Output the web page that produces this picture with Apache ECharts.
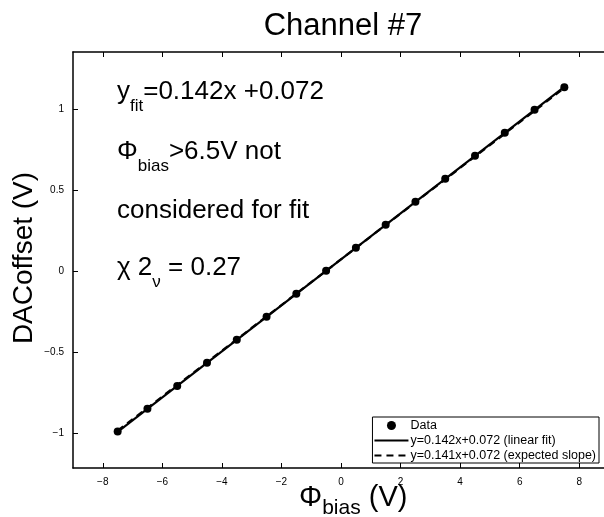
<!DOCTYPE html>
<html>
<head>
<meta charset="utf-8">
<script src="https://cdn.jsdelivr.net/npm/echarts@6/dist/echarts.min.js"></script>
<style>
  html, body { margin: 0; padding: 0; background: #fff; }
  #chart { width: 604px; height: 517px; }
</style>
</head>
<body>
<div id="chart"></div>
<script>
// measured points
const biasV = [-7.5, -6.5, -5.5, -4.5, -3.5, -2.5, -1.5, -0.5, 0.5, 1.5, 2.5, 3.5, 4.5, 5.5, 6.5, 7.5];
const dacOffset = [-0.99, -0.85, -0.71, -0.567, -0.425, -0.283, -0.141, 0.001, 0.143, 0.285, 0.427, 0.569, 0.711, 0.853, 0.995, 1.135];

// fit lines (end points)
const fitX = [-7.5, 7.5];
const fitY = [-0.993, 1.137];
const expectedY = [-0.986, 1.130];

const xTicks = [-8, -6, -4, -2, 0, 2, 4, 6, 8];
const yTicks = [-1, -0.5, 0, 0.5, 1];

const FONT = 'Liberation Sans, Arial, Helvetica, sans-serif';

function fmt(v) {
  return v < 0 ? '\u2212' + Math.abs(v) : String(v);
}

const chart = echarts.init(document.getElementById('chart'), null, { renderer: 'canvas' });

const axisCommon = {
  axisLine: { show: true, onZero: false, lineStyle: { color: '#000', width: 1.5 } },
  splitLine: { show: false }
};

// rich text for labels with subscripts
function subRich(size, subSize, drop) {
  return {
    m: { fontSize: size, fontFamily: FONT, fill: '#000', verticalAlign: 'top', lineHeight: 40 },
    s: { fontSize: subSize, fontFamily: FONT, fill: '#000', verticalAlign: 'top', padding: [drop, 0, 0, 0] }
  };
}

chart.setOption({
  animation: false,
  backgroundColor: '#fff',
  textStyle: { fontFamily: FONT },
  title: {
    text: 'Channel #7',
    left: 338,
    textAlign: 'center',
    top: 6,
    textStyle: { fontSize: 31, fontWeight: 'normal', color: '#000', fontFamily: FONT }
  },
  grid: { left: 73, top: 52, right: -5, bottom: 49, outerBoundsMode: 'none' },
  xAxis: [{
    type: 'value',
    min: -9, max: 9,
    ...axisCommon,
    axisTick: { inside: true, length: 5, customValues: xTicks, lineStyle: { color: '#000' } },
    axisLabel: { customValues: xTicks, formatter: fmt, color: '#000', fontSize: 10, margin: 9, fontFamily: FONT }
  }, {
    type: 'value',
    position: 'top',
    min: -9, max: 9,
    ...axisCommon,
    axisTick: { inside: true, length: 5, customValues: xTicks, lineStyle: { color: '#000' } },
    axisLabel: { show: false }
  }],
  yAxis: [{
    type: 'value',
    min: -1.216, max: 1.352,
    ...axisCommon,
    axisTick: { inside: true, length: 5, customValues: yTicks, lineStyle: { color: '#000' } },
    axisLabel: { customValues: yTicks, formatter: fmt, color: '#000', fontSize: 10, margin: 9, fontFamily: FONT }
  }],
  legend: {
    orient: 'vertical',
    right: 5,
    bottom: 54,
    backgroundColor: '#fff',
    borderColor: '#000',
    borderWidth: 1,
    borderRadius: 0,
    padding: [2, 3, 1, 1],
    itemGap: 2,
    itemWidth: 34,
    itemHeight: 9,
    textStyle: { fontSize: 12.5, color: '#000', fontFamily: FONT, padding: [0, 0, 0, -3] },
    data: [
      { name: 'Data', icon: 'circle', itemStyle: { color: '#000', opacity: 1 } },
      { name: 'y=0.142x+0.072 (linear fit)', itemStyle: { opacity: 0 } },
      { name: 'y=0.141x+0.072 (expected slope)', itemStyle: { opacity: 0 } }
    ]
  },
  series: [{
    name: 'y=0.142x+0.072 (linear fit)',
    type: 'line',
    data: fitX.map((x, i) => [x, fitY[i]]),
    symbol: 'none',
    lineStyle: { color: '#000', width: 2.2 },
    itemStyle: { color: '#000' },
    z: 2
  }, {
    name: 'y=0.141x+0.072 (expected slope)',
    type: 'line',
    data: fitX.map((x, i) => [x, expectedY[i]]),
    symbol: 'none',
    lineStyle: { color: '#000', width: 2.2, type: [7, 5] },
    itemStyle: { color: '#000' },
    z: 3
  }, {
    name: 'Data',
    type: 'scatter',
    data: biasV.map((x, i) => [x, dacOffset[i]]),
    symbol: 'circle',
    symbolSize: 8,
    itemStyle: { color: '#000', opacity: 1 },
    z: 4
  }],
  graphic: [
    {
      type: 'text', left: 117, top: 79,
      style: { text: '{m|y}{s|fit}{m|=0.142x +0.072}', rich: subRich(26, 17, 19) }
    },
    {
      type: 'text', left: 117, top: 139,
      style: { text: '{m|\u03A6}{s|bias}{m|>6.5V not}', rich: subRich(26, 17, 19) }
    },
    {
      type: 'text', left: 117, top: 198,
      style: { text: 'considered for fit', font: '26px ' + FONT, fill: '#000' }
    },
    {
      type: 'text', left: 117, top: 255,
      style: { text: '{m|\u03C7 2}{s|\u03BD}{m| = 0.27}', rich: subRich(26, 17, 19) }
    },
    {
      type: 'text', left: 299, top: 483,
      style: { text: '{m|\u03A6}{s|bias}{m| (V)}', rich: subRich(29, 21, 15) }
    },
    {
      type: 'text', x: 24, y: 258, rotation: Math.PI / 2,
      style: { text: 'DACoffset (V)', font: '28px ' + FONT, fill: '#000', align: 'center', verticalAlign: 'middle' }
    }
  ]
});
</script>
</body>
</html>
